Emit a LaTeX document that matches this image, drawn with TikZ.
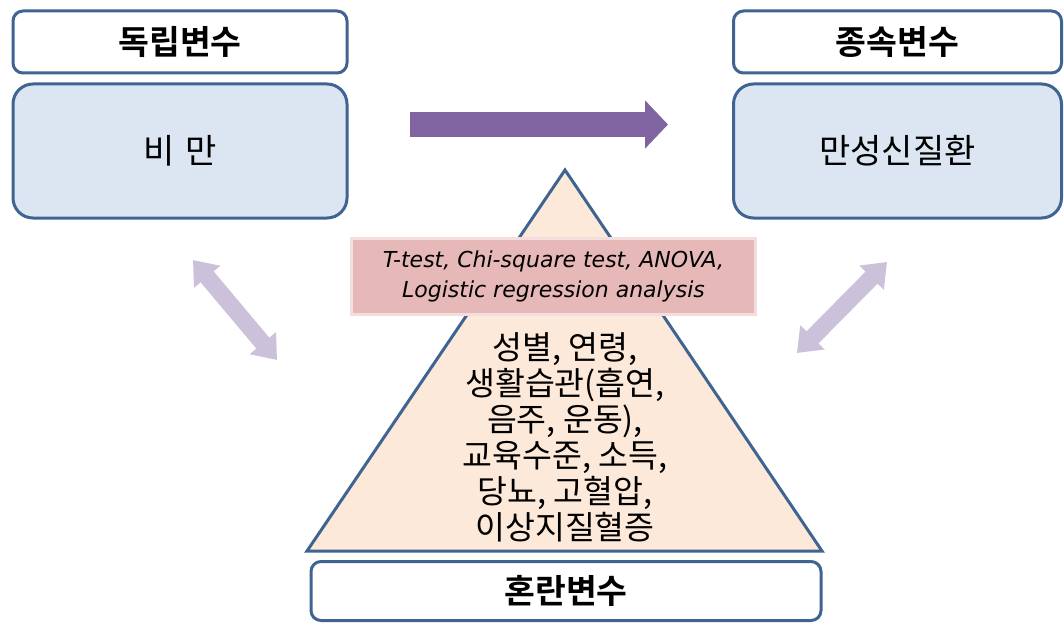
\documentclass[tikz,border=0pt]{standalone}
\usepackage{fontspec}
\setmainfont{Noto Sans CJK KR}[BoldFont={Noto Sans CJK KR Bold}]
\newfontfamily\latf{DejaVu Sans}
\usetikzlibrary{arrows.meta}
\definecolor{boxblue}{HTML}{3F6492}
\definecolor{bodyblue}{HTML}{DCE6F2}
\definecolor{purp}{HTML}{8064A2}
\definecolor{lpurp}{HTML}{CCC1DA}
\definecolor{peach}{HTML}{FDE9D9}
\definecolor{pinkfill}{HTML}{E6B9B8}
\definecolor{pinkedge}{HTML}{F4DEDD}
\begin{document}
\begin{tikzpicture}[x=1pt,y=-1pt,
 hdr/.style={draw=boxblue, line width=3pt, rounded corners=10pt, fill=white, minimum height=62pt, inner sep=0pt, font=\fontsize{33.5}{38}\selectfont\bfseries},
 bodybox/.style={draw=boxblue, line width=3pt, rounded corners=20pt, fill=bodyblue, minimum height=134pt, inner sep=0pt, font=\fontsize{34}{38}\selectfont},
 bigarrow/.style={purp, line width=25pt, -{Triangle[length=23pt,width=47pt]}},
 dblarrow/.style={lpurp, line width=17pt, {Triangle[length=22pt,width=33pt]}-{Triangle[length=22pt,width=33pt]}},
 tri/.style={draw=boxblue, line width=3pt, fill=peach, line join=miter},
 method/.style={draw=pinkedge, line width=3pt, fill=pinkfill, minimum width=404pt, minimum height=76pt, inner sep=0pt, align=center, font=\latf\itshape\fontsize{22}{30}\selectfont},
 conf/.style={align=center, inner sep=0pt, font=\fontsize{32.5}{36}\selectfont}
]
\useasboundingbox (0,0) rectangle (1064,623);
% top boxes
\node[hdr, minimum width=334pt] (indeph) at (180,42) {독립변수};
\node[bodybox, minimum width=334pt] (indep) at (180,151) {비\hspace{0.3em}만};
\node[hdr, minimum width=328pt] (deph) at (897.5,42) {종속변수};
\node[bodybox, minimum width=328pt] (dep) at (897.5,151) {만성신질환};
% main arrow
\coordinate (p1) at (410,124.5);
\coordinate (p2) at (668,124.5);
\draw[bigarrow] (p1) -- (p2);
% triangle
\coordinate (apex) at (565,170);
\coordinate (br) at (822,551);
\coordinate (bl) at (307,551);
\draw[tri] (apex) -- (br) -- (bl) -- cycle;
% method box
\node[method] (meth) at (553.5,276.5) {T-test, Chi-square test, ANOVA,\\Logistic regression analysis};
% confounders text
\node[conf] (conftext) at (565,437) {성별, 연령,\\생활습관(흡연,\\음주, 운동),\\교육수준, 소득,\\당뇨, 고혈압,\\이상지질혈증};
% bottom box
\node[hdr, minimum width=510pt, minimum height=59pt] (confh) at (566,591) {혼란변수};
% double arrows
\coordinate (l1) at (193,260);
\coordinate (l2) at (277,360);
\draw[dblarrow] (l1) -- (l2);
\coordinate (r1) at (887,262);
\coordinate (r2) at (797,353);
\draw[dblarrow] (r1) -- (r2);
\end{tikzpicture}
\end{document}
